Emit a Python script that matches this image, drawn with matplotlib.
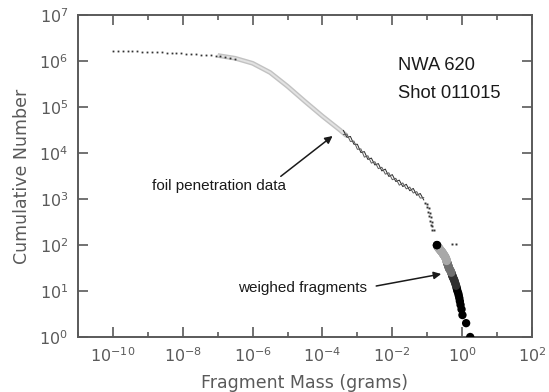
import numpy as np
import matplotlib
matplotlib.use("Agg")
import matplotlib.pyplot as plt
from matplotlib.ticker import NullFormatter, FixedLocator

# ---------- DATA ----------
# foil penetration, sparse flat part (log10 grams, log10 count)
foil_flat_logm = [-10.0, -9.86, -9.72, -9.58, -9.44, -9.30, -9.16, -9.02, -8.88, -8.74,
                  -8.60, -8.46, -8.32, -8.18, -8.04, -7.90, -7.76, -7.62, -7.48, -7.34,
                  -7.20, -7.06, -6.92, -6.78, -6.64, -6.50]
foil_flat_logn = [6.22, 6.22, 6.22, 6.21, 6.21, 6.21, 6.20, 6.20, 6.20, 6.19,
                  6.19, 6.18, 6.18, 6.17, 6.17, 6.16, 6.15, 6.15, 6.14, 6.13,
                  6.12, 6.11, 6.10, 6.09, 6.07, 6.05]

# foil penetration, dense grey band
foil_band_logm = [-7.0, -6.5, -6.0, -5.5, -5.0, -4.5, -4.0, -3.5, -3.3]
foil_band_logn = [6.12, 6.06, 5.95, 5.75, 5.45, 5.12, 4.80, 4.50, 4.37]

# foil penetration, two noisy tracks at the large-mass end
track_logm = [-3.4, -3.3, -3.2, -3.1, -3.0, -2.9, -2.8, -2.7, -2.6, -2.5, -2.4, -2.3,
              -2.2, -2.1, -2.0, -1.9, -1.8, -1.7, -1.6, -1.5, -1.4, -1.3, -1.2, -1.1]
track_a_logn = [4.49, 4.34, 4.36, 4.19, 4.19, 4.01, 4.03, 3.86, 3.89, 3.74, 3.77, 3.61,
                3.65, 3.49, 3.53, 3.38, 3.41, 3.27, 3.32, 3.18, 3.23, 3.08, 3.12, 2.98]
track_b_logn = [4.40, 4.41, 4.25, 4.26, 4.08, 4.09, 3.91, 3.94, 3.78, 3.81, 3.66, 3.69,
                3.54, 3.57, 3.42, 3.45, 3.30, 3.35, 3.22, 3.26, 3.13, 3.16, 3.02, 3.03]

# foil penetration, last few dots
foil_tail_logm = [-1.06, -1.02, -1.0, -0.96, -0.97, -0.93, -0.94, -0.90, -0.91, -0.87,
                  -0.89, -0.85, -0.86, -0.82, -0.29, -0.18]
foil_tail_logn = [2.92, 2.90, 2.82, 2.80, 2.72, 2.70, 2.63, 2.61, 2.53, 2.51,
                  2.43, 2.42, 2.33, 2.33, 2.03, 2.03]

# weighed fragments: masses in grams, ranked from largest
frag_mass = [1.70, 1.30, 1.02, 0.96, 0.90, 0.86, 0.83, 0.80, 0.77, 0.73,
             0.71, 0.69, 0.67, 0.65, 0.63, 0.61, 0.60, 0.58, 0.56, 0.54,
             0.53, 0.52, 0.51, 0.50, 0.49, 0.48, 0.47, 0.46, 0.45, 0.43,
             0.42, 0.42, 0.41, 0.41, 0.40, 0.40, 0.39, 0.39, 0.38, 0.38,
             0.37, 0.37, 0.37, 0.36, 0.36, 0.36, 0.35, 0.35, 0.35, 0.35,
             0.34, 0.34, 0.33, 0.33, 0.33, 0.32, 0.32, 0.31, 0.31, 0.30,
             0.30, 0.29, 0.29, 0.29, 0.28, 0.28, 0.28, 0.27, 0.27, 0.26,
             0.26, 0.26, 0.25, 0.25, 0.25, 0.24, 0.24, 0.24, 0.23, 0.23,
             0.23, 0.22, 0.22, 0.22, 0.22, 0.21, 0.21, 0.21, 0.21, 0.20,
             0.20, 0.20, 0.20, 0.20, 0.20, 0.19, 0.19, 0.19, 0.19, 0.19]
frag_count = np.arange(1, len(frag_mass) + 1)

x_major = [1e-10, 1e-8, 1e-6, 1e-4, 1e-2, 1e0, 1e2]
x_minor = [1e-11, 1e-9, 1e-7, 1e-5, 1e-3, 1e-1, 1e1]
x_labels = [r'$10^{-10}$', r'$10^{-8}$', r'$10^{-6}$', r'$10^{-4}$', r'$10^{-2}$', r'$10^{0}$', r'$10^{2}$']
y_major = [1e0, 1e1, 1e2, 1e3, 1e4, 1e5, 1e6, 1e7]
y_labels = [r'$10^{0}$', r'$10^{1}$', r'$10^{2}$', r'$10^{3}$', r'$10^{4}$', r'$10^{5}$', r'$10^{6}$', r'$10^{7}$']

axis_grey = '#5a5a5a'
ink = '#1a1a1a'

# ---------- PLOT ----------
fig = plt.figure(figsize=(5.49, 3.92), dpi=100)
ax = fig.add_axes([78/549, 1 - 337/392, (532-78)/549, (337-15)/392])

pw = lambda a: 10 ** np.array(a)

ax.plot(pw(foil_band_logm), pw(foil_band_logn), '-', color='#c2c2c2', lw=3.4, solid_capstyle='butt')
ax.plot(pw(foil_band_logm), pw(foil_band_logn), '-', color='#e2e2e2', lw=1.4)
ax.plot(pw(foil_flat_logm), pw(foil_flat_logn), 's', color='#333333', ms=1.3, mew=0)
ax.plot(pw(track_logm), pw(track_a_logn), '-', color='#2a2a2a', lw=0.7)
ax.plot(pw(track_logm), pw(track_b_logn), '-', color='#5a5a5a', lw=0.7)
ax.plot(pw(foil_tail_logm), pw(foil_tail_logn), 's', color='#333333', ms=1.4, mew=0)

# shade of each fragment circle: black at both ends, light grey in the crowded middle
def frag_shade(c):
    if c >= 99 or c <= 12:
        return '#000000'
    if c >= 45:
        return '#a8a8a8'
    if c >= 25:
        return '#707070'
    return '#303030'

ax.scatter(frag_mass, frag_count, s=36, c=[frag_shade(c) for c in frag_count],
           edgecolors='none', zorder=3)

ax.set_xscale('log')
ax.set_yscale('log')
ax.set_xlim(1e-11, 1e2)
ax.set_ylim(1e0, 1e7)

ax.xaxis.set_major_locator(FixedLocator(x_major))
ax.xaxis.set_minor_locator(FixedLocator(x_minor))
ax.xaxis.set_minor_formatter(NullFormatter())
ax.yaxis.set_major_locator(FixedLocator(y_major))
ax.yaxis.set_minor_locator(FixedLocator([]))
ax.set_xticklabels(x_labels)
ax.set_yticklabels(y_labels)

ax.tick_params(which='both', direction='in', top=True, right=True, colors=axis_grey,
               labelcolor=axis_grey, labelsize=11.5, width=1.2)
ax.tick_params(which='major', length=7, pad=7)
ax.tick_params(which='minor', length=3.5)
for s in ax.spines.values():
    s.set_color(axis_grey)
    s.set_linewidth(1.4)

ax.set_xlabel('Fragment Mass (grams)', color=axis_grey, fontsize=12.5, labelpad=6)
ax.set_ylabel('Cumulative Number', color=axis_grey, fontsize=12.5, labelpad=6)

fig.text(398/549, 1 - 66/392, 'NWA 620', family='Liberation Sans',
         fontsize=13.2, va='center', ha='left', color=ink)
fig.text(398/549, 1 - 93/392, 'Shot 011015', family='Liberation Sans',
         fontsize=13.2, va='center', ha='left', color=ink)

ax.annotate('foil penetration data', xy=(10**-3.71, 10**4.37), xytext=(10**-8.89, 10**3.28),
            fontsize=11, family='Liberation Sans', color=ink, va='center', ha='left',
            arrowprops=dict(arrowstyle='-|>', color=ink, lw=1.1, mutation_scale=11,
                            shrinkA=0, shrinkB=0, relpos=(0.93, 0.95)))
ax.annotate('weighed fragments', xy=(10**-0.6, 10**1.37), xytext=(10**-6.43, 10**1.07),
            fontsize=11, family='Liberation Sans', color=ink, va='center', ha='left',
            arrowprops=dict(arrowstyle='-|>', color=ink, lw=1.1, mutation_scale=11,
                            shrinkA=5, shrinkB=0, relpos=(1.0, 0.5)))

fig.savefig('out.png', dpi=100)
